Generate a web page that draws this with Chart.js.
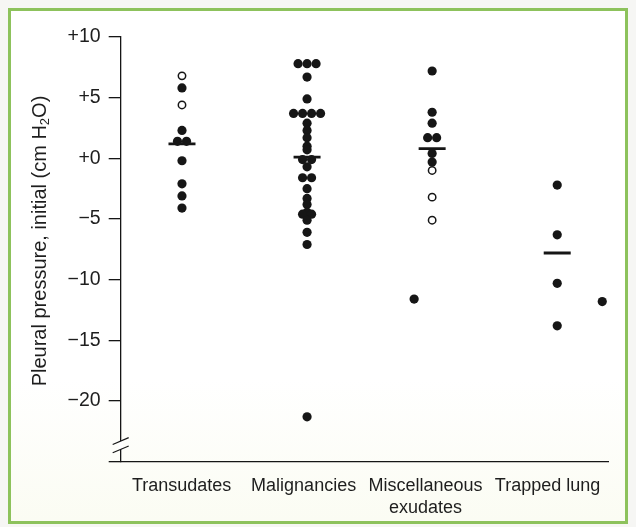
<!DOCTYPE html>
<html>
<head>
<meta charset="utf-8">
<title>Initial pleural pressure by effusion type</title>
<script src="https://cdn.jsdelivr.net/npm/chart.js@4.4.1/dist/chart.umd.min.js"></script>
<style>
  html, body { margin: 0; padding: 0; background: #f6f6f4; }
  #wrap { position: relative; width: 636px; height: 527px; overflow: hidden; }
  #frame {
    position: absolute; left: 8px; top: 8px; width: 614px; height: 510px;
    border: 3px solid #8dc25c;
    background: linear-gradient(#ffffff 72%, #fbfcf3);
  }
  #chart { position: absolute; left: 0; top: 0; }
</style>
</head>
<body>
<div id="wrap">
  <div id="frame"></div>
  <canvas id="chart" width="636" height="527"></canvas>
</div>
<script>
// Groups shown along the x axis
const categories = ['Transudates', 'Malignancies', ['Miscellaneous', 'exudates'], 'Trapped lung'];

// Labelled pressure ticks (cm H2O); the axis runs down to -25 where it is broken
const yTicks = [10, 5, 0, -5, -10, -15, -20];

// Initial pleural pressure of each patient, per group (filled and open markers)
const transudatesFilled = [5.8, 2.3, 1.4, 1.4, -0.2, -2.1, -3.1, -4.1];
const transudatesOpen = [6.8, 4.4];
const malignanciesFilled = [7.8, 7.8, 7.8, 6.7, 4.9, 3.7, 3.7, 3.7, 3.7, 2.9, 2.3, 1.7, 1.0, 0.7,
  -0.1, -0.1, -0.7, -1.6, -1.6, -2.5, -3.3, -3.8, -4.45, -4.6, -4.6, -5.1, -6.1, -7.1, -21.3];
const miscFilled = [7.2, 3.8, 2.9, 1.7, 1.7, 0.4, -0.3];
const miscOpen = [-1.0, -3.2, -5.1];
const trappedFilled = [-2.2, -6.3, -10.3, -13.8];

// Points drawn beside their group's column: [group index, pressure, lane]
const sidePoints = [[2, -11.6, -2], [3, -11.8, 5]];

// Group means, drawn as short horizontal bars
const groupMeans = [1.2, 0.1, 0.8, -7.8];

const FONT = "'Liberation Sans', Arial, Helvetica, sans-serif";
const INK = '#161616';
const STEP = 0.072;   // horizontal spacing of tied dots, in category units

// Spread equal values side by side around the group's centre line
function swarm(values, group) {
  const counts = {};
  values.forEach(v => { const k = v.toFixed(2); counts[k] = (counts[k] || 0) + 1; });
  const seen = {};
  return values.map(v => {
    const k = v.toFixed(2);
    const j = seen[k] = (seen[k] === undefined ? 0 : seen[k] + 1);
    return { x: group + (j - (counts[k] - 1) / 2) * STEP, y: v };
  });
}

const filledPoints = [
  ...swarm(transudatesFilled, 0),
  ...swarm(malignanciesFilled, 1),
  ...swarm(miscFilled, 2),
  ...swarm(trappedFilled, 3),
  ...sidePoints.map(([g, v, lane]) => ({ x: g + lane * STEP, y: v }))
];
const openPoints = [...swarm(transudatesOpen, 0), ...swarm(miscOpen, 2)];
const meanPoints = groupMeans.map((v, i) => ({ x: i, y: v }));

// Broken-axis marks near the foot of the y axis
const axisBreak = {
  id: 'axisBreak',
  afterDraw(chart) {
    const { ctx, scales: { y } } = chart;
    const x = y.right;
    const c1 = y.getPixelForValue(-23.3);
    const c2 = c1 + 8.3;
    const dx = 8, dy = 3.4;
    ctx.save();
    ctx.fillStyle = '#ffffff';
    ctx.beginPath();
    ctx.moveTo(x - 2, c1 + 1);
    ctx.lineTo(x + 2, c1 - 1);
    ctx.lineTo(x + 2, c2 - 1);
    ctx.lineTo(x - 2, c2 + 1);
    ctx.closePath();
    ctx.fill();
    ctx.strokeStyle = INK;
    ctx.lineWidth = 1.2;
    [c1, c2].forEach(c => {
      ctx.beginPath();
      ctx.moveTo(x - dx, c + dy);
      ctx.lineTo(x + dx, c - dy);
      ctx.stroke();
    });
    ctx.restore();
  }
};

// Rotated y-axis title with a true subscript in H2O
const yTitle = {
  id: 'yTitle',
  afterDraw(chart) {
    const { ctx } = chart;
    const parts = [
      { t: 'Pleural pressure, initial (cm H', size: 20, dy: 0 },
      { t: '2', size: 13, dy: 5 },
      { t: 'O)', size: 20, dy: 0 }
    ];
    ctx.save();
    ctx.translate(40, 241);
    ctx.rotate(-Math.PI / 2);
    ctx.fillStyle = '#1e1e1e';
    ctx.textBaseline = 'middle';
    let total = 0;
    parts.forEach(p => { ctx.font = p.size + 'px ' + FONT; p.w = ctx.measureText(p.t).width; total += p.w; });
    let cx = -total / 2;
    parts.forEach(p => {
      ctx.font = p.size + 'px ' + FONT;
      ctx.fillText(p.t, cx, p.dy);
      cx += p.w;
    });
    ctx.restore();
  }
};

new Chart(document.getElementById('chart'), {
  type: 'scatter',
  data: {
    datasets: [
      {
        label: 'Mean',
        data: meanPoints,
        pointStyle: 'line',
        pointRadius: 13.5,
        borderWidth: 2.8,
        borderColor: INK,
        order: 0
      },
      {
        label: 'Filled',
        data: filledPoints,
        pointStyle: 'circle',
        pointRadius: 4.6,
        backgroundColor: INK,
        borderWidth: 0,
        order: 1
      },
      {
        label: 'Open',
        data: openPoints,
        pointStyle: 'circle',
        pointRadius: 3.7,
        backgroundColor: '#ffffff',
        borderColor: INK,
        borderWidth: 1.5,
        order: 2
      }
    ]
  },
  options: {
    responsive: false,
    animation: false,
    layout: { padding: { top: 37, right: 27.5, bottom: 0, left: 0 } },
    plugins: { legend: { display: false }, tooltip: { enabled: false } },
    scales: {
      x: { type: 'linear', min: -0.49, max: 3.41, display: false },
      xc: {
        type: 'category',
        labels: categories,
        offset: true,
        position: 'bottom',
        grid: { display: false },
        border: { display: true, color: INK, width: 1.3 },
        ticks: { color: '#1e1e1e', font: { family: FONT, size: 18 }, padding: 6, maxRotation: 0, autoSkip: false },
        afterFit: s => { s.height = 65.3; }
      },
      y: {
        type: 'linear',
        min: -25,
        max: 10,
        afterBuildTicks: s => { s.ticks = [-25, ...yTicks].map(v => ({ value: v })); },
        ticks: {
          color: '#1e1e1e',
          font: { family: FONT, size: 19.5 },
          padding: 8,
          autoSkip: false,
          callback: v => (v === -25 ? '' : v >= 0 ? '+' + v : '\u2212' + Math.abs(v))
        },
        grid: { drawOnChartArea: false, drawTicks: true, tickLength: 12, color: INK, lineWidth: 1.3 },
        border: { display: true, color: INK, width: 1.3 },
        afterFit: s => { s.width = 120.7; }
      }
    }
  },
  plugins: [axisBreak, yTitle]
});
</script>
</body>
</html>
